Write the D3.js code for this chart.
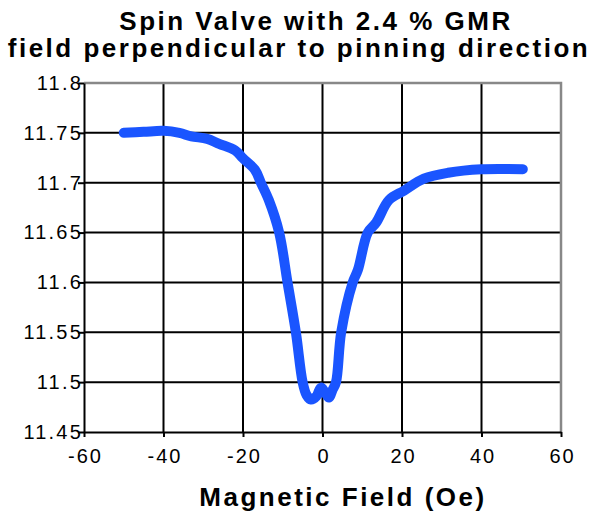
<!DOCTYPE html>
<html>
<head>
<meta charset="utf-8">
<script src="https://cdn.jsdelivr.net/npm/d3@7"></script>
<style>
  body { margin: 0; background: #fff; }
  text { font-family: "Liberation Sans", Arial, sans-serif; }
</style>
</head>
<body>
<script>
"use strict";

const fieldOe = [-50, -45, -40, -36, -33, -29, -26, -22, -20, -17, -15.5, -13.5, -10.9, -8.8, -6.7, -5,
    -4, -2.9, -1.5, -0.4, 0.6, 1.6, 2.5, 3.4, 4.7, 7.6, 8.9, 11.4, 13.5, 16.7, 20.5, 25.5, 31.6, 40, 50.4]
const resistance = [11.750, 11.751, 11.752, 11.750, 11.7465, 11.744, 11.739, 11.7325, 11.7245, 11.713, 11.700,
    11.6825, 11.650, 11.600, 11.550, 11.500, 11.487, 11.4825, 11.486, 11.4945, 11.490, 11.4845, 11.492, 11.500,
    11.550, 11.600, 11.6125, 11.650, 11.660, 11.6825, 11.692, 11.704, 11.710, 11.7135, 11.7135]
const xTicks = [-60, -40, -20, 0, 20, 40, 60]
const yTicks = [11.45, 11.5, 11.55, 11.6, 11.65, 11.7, 11.75, 11.8]
const titleLines = ["Spin Valve with 2.4 % GMR", "field perpendicular to pinning direction"]
const xTitle = "Magnetic Field (Oe)"

const measurements = {
    width: 597,
    height: 514,
    left: 84,
    right: 561,
    top: 83,
    bottom: 432
}

const svg = d3.select("body").append("svg")
    .attr("width", measurements.width)
    .attr("height", measurements.height)

const scaleX = d3.scaleLinear()
    .domain([-60, 60])
    .range([measurements.left, measurements.right])

const scaleY = d3.scaleLinear()
    .domain([11.45, 11.8])
    .range([measurements.bottom, measurements.top])

// grid lines
svg.append("g").selectAll("line")
    .data(yTicks.slice(1, -1))
    .enter().append("line")
    .attr("x1", measurements.left).attr("x2", measurements.right)
    .attr("y1", d => scaleY(d)).attr("y2", d => scaleY(d))
    .attr("stroke", "#000").attr("stroke-width", 2)

svg.append("g").selectAll("line")
    .data(xTicks.slice(1, -1))
    .enter().append("line")
    .attr("x1", d => scaleX(d)).attr("x2", d => scaleX(d))
    .attr("y1", measurements.top).attr("y2", measurements.bottom)
    .attr("stroke", "#000").attr("stroke-width", 2)

// top and right frame (grey)
svg.append("path")
    .attr("d", `M${measurements.left},${measurements.top}H${measurements.right}V${measurements.bottom}`)
    .attr("fill", "none")
    .attr("stroke", "#888")
    .attr("stroke-width", 2.5)

// axes
const xAxis = d3.axisBottom(scaleX)
    .tickValues(xTicks)
    .tickFormat(d => String(d))   // plain hyphen, not the unicode minus
    .tickSizeInner(5)
    .tickSizeOuter(0)
    .tickPadding(12)

const yAxis = d3.axisLeft(scaleY)
    .tickValues(yTicks)
    .tickFormat(d => String(+d.toFixed(2)))
    .tickSizeInner(6)
    .tickSizeOuter(0)

const gx = svg.append("g")
    .attr("transform", `translate(0,${measurements.bottom})`)
    .call(xAxis)
gx.select(".domain").attr("stroke", "#000").attr("stroke-width", 2)
gx.selectAll(".tick line").attr("stroke", "#000").attr("stroke-width", 2)
gx.selectAll(".tick text")
    .attr("fill", "#000")
    .attr("dx", "1px")
    .style("font-size", "20px")
    .style("letter-spacing", "2px")

const gy = svg.append("g")
    .attr("transform", `translate(${measurements.left},0)`)
    .call(yAxis)
gy.select(".domain").attr("stroke", "#000").attr("stroke-width", 2)
gy.selectAll(".tick line").attr("stroke", "#000").attr("stroke-width", 2)
gy.selectAll(".tick text")
    .attr("fill", "#000")
    .attr("x", -1)
    .style("font-size", "20px")
    .style("letter-spacing", "2.2px")

// data line
const line = d3.line()
    .x((d, i) => scaleX(fieldOe[i]))
    .y(d => scaleY(d))
    .curve(d3.curveCatmullRom.alpha(0.5))

svg.append("path")
    .datum(resistance)
    .attr("d", line)
    .attr("fill", "none")
    .attr("stroke", "#1a55ff")
    .attr("stroke-width", 10)
    .attr("stroke-linecap", "round")
    .attr("stroke-linejoin", "round")

// titles
svg.selectAll("text.title")
    .data(titleLines)
    .enter().append("text")
    .attr("class", "title")
    .attr("x", (d, i) => i === 0 ? 316 : 299)
    .attr("y", (d, i) => 30 + i * 27)
    .attr("text-anchor", "middle")
    .style("font-size", "26px")
    .style("font-weight", "bold")
    .style("letter-spacing", "2.5px")
    .text(d => d)

svg.append("text")
    .attr("x", 343)
    .attr("y", 506)
    .attr("text-anchor", "middle")
    .style("font-size", "26px")
    .style("font-weight", "bold")
    .style("letter-spacing", "2.5px")
    .text(xTitle)
</script>
</body>
</html>
